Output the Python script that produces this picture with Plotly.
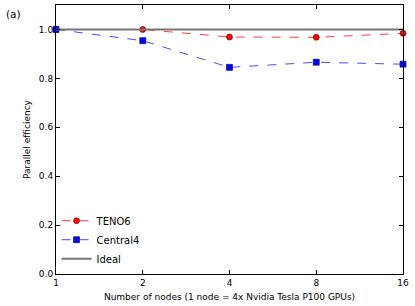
import plotly.graph_objects as go

nodes = [1, 2, 4, 8, 16]
teno6 = [1.0, 1.0, 0.969, 0.968, 0.984]
central4 = [1.0, 0.954, 0.845, 0.866, 0.858]
ideal = [1.0, 1.0, 1.0, 1.0, 1.0]
tick_vals = [1, 2, 4, 8, 16]
tick_text = ["1", "2", "4", "8", "16"]

font = "DejaVu Sans"
fig = go.Figure()
fig.add_trace(go.Scatter(x=nodes, y=teno6, mode="lines+markers", name="TENO6",
                         line=dict(color="rgba(255,0,0,0.75)", width=1, dash="dash"),
                         marker=dict(symbol="circle", size=6, color="#ff0000",
                                     line=dict(color="#550000", width=0.6)),
                         cliponaxis=False))
fig.add_trace(go.Scatter(x=nodes, y=central4, mode="lines+markers", name="Central4",
                         line=dict(color="rgba(0,0,255,0.7)", width=1, dash="dash"),
                         marker=dict(symbol="square", size=6, color="#0000ff",
                                     line=dict(color="#000055", width=0.6)),
                         cliponaxis=False))
fig.add_trace(go.Scatter(x=nodes, y=ideal, mode="lines", name="Ideal",
                         line=dict(color="#777777", width=2), cliponaxis=False))

fig.update_layout(
    width=415, height=306,
    margin=dict(l=56, r=12, t=5, b=32),
    paper_bgcolor="white", plot_bgcolor="white",
    font=dict(family=font, size=9, color="black"),
    showlegend=True,
    legend=dict(x=0.0015, y=0.003, xanchor="left", yanchor="bottom",
                bgcolor="rgba(0,0,0,0)", font=dict(size=10, family=font),
                traceorder="normal", itemwidth=30, tracegroupgap=0),
)
fig.add_annotation(text="(a)", xref="paper", yref="paper", x=-0.15, y=0.9665,
                   xanchor="left", yanchor="middle", showarrow=False,
                   font=dict(size=10.5, family=font))
fig.update_xaxes(type="log", range=[0, 1.20412], tickvals=tick_vals, ticktext=tick_text,
                 ticks="inside", ticklen=4, tickcolor="black", showgrid=False, zeroline=False,
                 showline=True, linecolor="black", linewidth=1, mirror="ticks",
                 title=dict(text="Number of nodes (1 node = 4x Nvidia Tesla P100 GPUs)",
                            font=dict(size=9, family=font), standoff=6),
                 tickfont=dict(size=9, family=font))
fig.update_yaxes(range=[0, 1.1], tickvals=[0, 0.2, 0.4, 0.6, 0.8, 1.0],
                 ticktext=["0.0", "0.2", "0.4", "0.6", "0.8", "1.0"],
                 ticks="inside", ticklen=4, tickcolor="black", showgrid=False, zeroline=False,
                 showline=True, linecolor="black", linewidth=1, mirror="ticks",
                 title=dict(text="Parallel efficiency", font=dict(size=9, family=font), standoff=6),
                 tickfont=dict(size=9, family=font))
fig.write_html("out.html", config={"displayModeBar": False},
               post_script="document.body.style.margin='0';")
